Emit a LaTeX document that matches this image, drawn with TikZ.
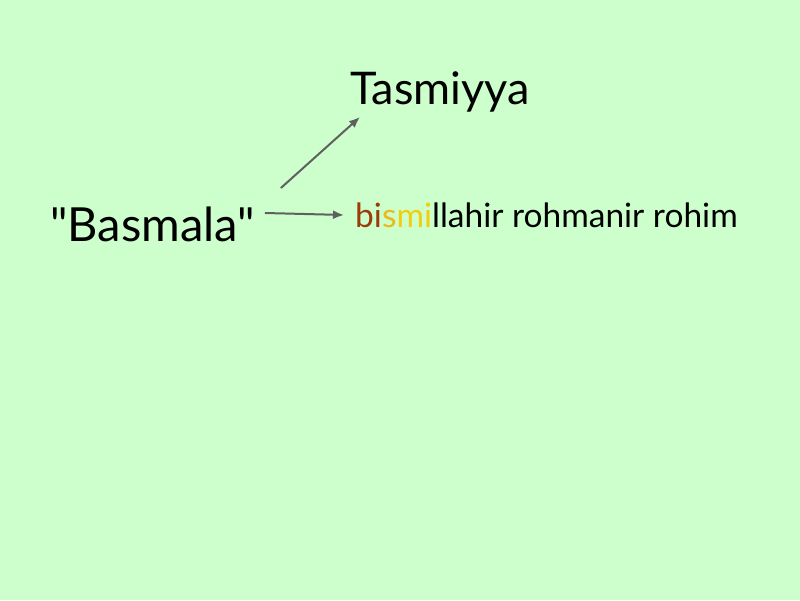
\documentclass[tikz,border=0pt]{standalone}
\usepackage{fontspec}
\setmainfont{Lato}[Ligatures=TeXOff]
\usetikzlibrary{arrows.meta}
\definecolor{bgc}{HTML}{CCFFCC}
\definecolor{arrc}{HTML}{606060}
\definecolor{brn}{HTML}{9C3A08}
\definecolor{gld}{HTML}{EEB818}
\definecolor{ylw}{HTML}{F4CC10}
\tikzset{
  lbl/.style={inner sep=0pt, anchor=base west, text=black},
  arr/.style={draw=arrc, line width=2pt, -{Latex[length=11pt,width=9pt]}}
}
\begin{document}
\begin{tikzpicture}[x=1pt,y=1pt]
\fill[bgc] (0,0) rectangle (800,600);
\useasboundingbox (0,0) rectangle (800,600);
\node[lbl, font=\fontsize{47}{56}\selectfont] (bas) at (50,358) {"Basmala"};
\node[lbl, font=\fontsize{45}{54}\selectfont] (tas) at (350,495) {Tasmiyya};
\node[lbl, font=\fontsize{33.5}{40}\selectfont] (bis) at (355,372) {\textcolor{brn}{bi}\textcolor{gld}{s}\textcolor{ylw}{mi}llahir rohmanir rohim};
\draw[arr] ([xshift=26pt,yshift=54pt]bas.base east) -- ([xshift=10pt,yshift=-12pt]tas.base west);
\draw[arr] ([xshift=10pt,yshift=29pt]bas.base east) -- ([xshift=-11pt,yshift=13pt]bis.base west);
\end{tikzpicture}
\end{document}
